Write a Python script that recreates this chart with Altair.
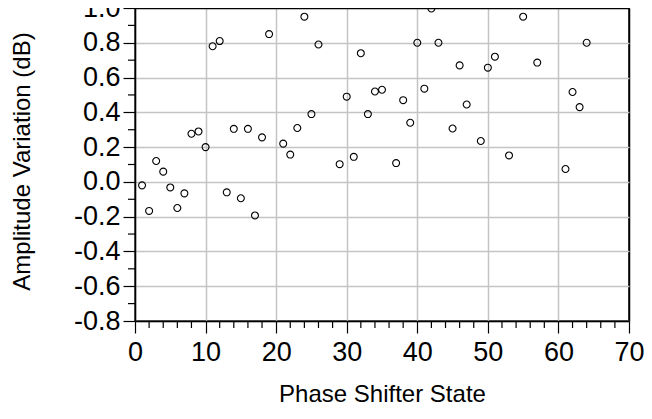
import altair as alt
import pandas as pd

states = [1, 2, 3, 4, 5, 6, 7, 8, 9, 10, 11, 12, 13, 14, 15, 16, 17, 18, 19,
          21, 22, 23, 24, 25, 26, 29, 30, 31, 32, 33, 34, 35, 37, 38, 39, 40,
          41, 42, 43, 45, 46, 47, 49, 50, 51, 53, 55, 57, 61, 62, 63, 64]
amplitude = [-0.02, -0.167, 0.12, 0.059, -0.032, -0.15, -0.066, 0.277, 0.29, 0.20,
             0.78, 0.81, -0.06, 0.305, -0.094, 0.305, -0.193, 0.256, 0.85,
             0.22, 0.157, 0.31, 0.95, 0.39, 0.79, 0.102, 0.49, 0.144, 0.74, 0.39,
             0.52, 0.53, 0.108, 0.47, 0.34, 0.80, 0.536, 0.997, 0.80, 0.307, 0.67,
             0.445, 0.235, 0.657, 0.72, 0.152, 0.95, 0.686, 0.074, 0.517, 0.43, 0.80]

x_major = [0, 10, 20, 30, 40, 50, 60, 70]
y_major = [-0.8, -0.6, -0.4, -0.2, 0.0, 0.2, 0.4, 0.6, 0.8, 1.0]
x_minor = [v for v in range(0, 71, 2) if v % 10 != 0]
y_minor = [-0.7, -0.5, -0.3, -0.1, 0.1, 0.3, 0.5, 0.7, 0.9]

W, H = 494, 313
FONT = "Liberation Sans"
LABEL_SIZE = 27
GRID = "#c4c4c4"

df = pd.DataFrame({"state": states, "amp": amplitude})
xminor_df = pd.DataFrame({"state": x_minor})
yminor_df = pd.DataFrame({"amp": y_minor})

xscale = alt.Scale(domain=[0, 70], nice=False, zero=False)
yscale = alt.Scale(domain=[-0.8, 1.0], nice=False, zero=False)

xaxis = alt.Axis(
    values=x_major, title="Phase Shifter State", format="d",
    tickSize=12, tickColor="black", tickWidth=1.2,
    domainColor="black", domainWidth=1.5,
    labelFontSize=LABEL_SIZE, labelFont=FONT, labelColor="black", labelPadding=6,
    labelFlush=False, labelOverlap=False,
    grid=True, gridWidth=1.5,
    gridColor={"condition": {"test": "datum.value >= 70", "value": "black"}, "value": GRID},
    titleFontSize=24, titleFont=FONT, titleFontWeight="normal", titleColor="black",
    titleY=80, titleBaseline="alphabetic",
)
yaxis = alt.Axis(
    values=y_major, title="Amplitude Variation (dB)",
    labelExpr="replace(format(datum.value, '.1f'), '\u2212', '-')",
    tickSize=12, tickColor="black", tickWidth=1.2,
    domainColor="black", domainWidth=1.5,
    labelFontSize=LABEL_SIZE, labelFont=FONT, labelColor="black", labelPadding=3,
    labelFlush=False, labelOverlap=False,
    grid=True, gridWidth=1.5,
    gridColor={"condition": {"test": "datum.value >= 0.99", "value": "black"}, "value": GRID},
    titleFontSize=24, titleFont=FONT, titleFontWeight="normal", titleColor="black",
    titleX=-106, titleY=153, titleBaseline="alphabetic", titleAngle=-90,
    titleAlign="center",
)

points = alt.Chart(df).mark_point(
    shape="circle", filled=False, color="black", size=48, strokeWidth=1.1,
    opacity=1, clip=False
).encode(
    x=alt.X("state:Q", scale=xscale, axis=xaxis),
    y=alt.Y("amp:Q", scale=yscale, axis=yaxis),
)

xminor = alt.Chart(xminor_df).mark_rule(color="black", strokeWidth=1.2, clip=False).encode(
    x=alt.X("state:Q", scale=xscale, axis=xaxis),
    y=alt.value(H),
    y2=alt.value(H + 7),
)

yminor = alt.Chart(yminor_df).mark_rule(color="black", strokeWidth=1.2, clip=False).encode(
    y=alt.Y("amp:Q", scale=yscale, axis=yaxis),
    x=alt.value(-7),
    x2=alt.value(0),
)

chart = alt.layer(points, xminor, yminor).properties(
    width=W, height=H,
    autosize=alt.AutoSizeParams(type="none"),
    padding={"left": 127, "top": 0, "right": 15, "bottom": 86},
).configure(
    background="white",
    view=alt.ViewConfig(stroke="black", strokeWidth=1.5),
)

chart.save("out.html", embed_options={"renderer": "svg", "actions": False})
